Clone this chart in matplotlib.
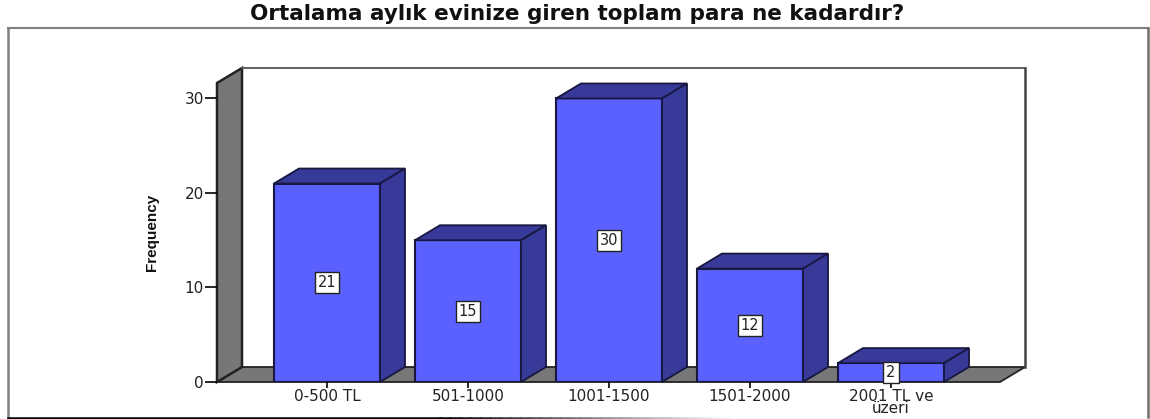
import matplotlib
matplotlib.use("Agg")
import matplotlib.pyplot as plt
from matplotlib.lines import Line2D
from matplotlib.patches import Polygon

# Data
categories = ["0-500 TL", "501-1000", "1001-1500", "1501-2000", "2001 TL ve\nüzeri"]
frequency = [21, 15, 30, 12, 2]
y_ticks = [0, 10, 20, 30]

W, H = 1150, 419
FRONT = "#5a61ff"
SIDE = "#383a9a"
WALL = "#777777"
DARK = "#17173f"
TEXT = "#222222"

fig = plt.figure(figsize=(W / 100, H / 100), dpi=100, facecolor="white")

# Axes is the front plane of the fake 3D box (pixels)
left, right, bottom, top = 217, 1000, 382, 83
ax = fig.add_axes([left / W, 1 - bottom / H, (right - left) / W, (bottom - top) / H])
ax.set_xlim(-0.78, 4.773)
ax.set_ylim(0, 31.64)
ax.patch.set_visible(False)
for s in ax.spines.values():
    s.set_visible(False)

dx = 25 / 141   # depth in category units
dy = 15 / 9.45  # depth in frequency units
bar_w = 0.752
x0, x1 = ax.get_xlim()
y0, y1 = ax.get_ylim()

# Walls and floor
ax.add_patch(Polygon([(x0, y0), (x0 + dx, y0 + dy), (x1 + dx, y0 + dy), (x1, y0)],
                     fc=WALL, ec="#222222", lw=1.3, clip_on=False, zorder=1))
ax.add_patch(Polygon([(x0, y0), (x0 + dx, y0 + dy), (x0 + dx, y1 + dy), (x0, y1)],
                     fc=WALL, ec="#222222", lw=1.8, clip_on=False, zorder=1))
ax.plot([x0 + dx, x1 + dx], [y1 + dy, y1 + dy], color="#555555", lw=1.3, clip_on=False, zorder=1)
ax.plot([x1 + dx, x1 + dx], [y0 + dy, y1 + dy], color="#444444", lw=1.8, clip_on=False, zorder=1)

# Bars
for i, v in enumerate(frequency):
    a, b = i - bar_w / 2, i + bar_w / 2
    ax.bar(i, v, width=bar_w, color=FRONT, edgecolor=DARK, linewidth=1.5, zorder=3)
    ax.add_patch(Polygon([(a, v), (a + dx, v + dy), (b + dx, v + dy), (b, v)],
                         fc=SIDE, ec=DARK, lw=1.3, clip_on=False, zorder=3))
    ax.add_patch(Polygon([(b, 0), (b + dx, dy), (b + dx, v + dy), (b, v)],
                         fc=SIDE, ec=DARK, lw=1.3, clip_on=False, zorder=3))
    ax.text(i, v / 2, str(v), ha="center", va="center", fontsize=10.5, color=TEXT,
            family="DejaVu Sans", zorder=5,
            bbox=dict(boxstyle="square,pad=0.2", fc="white", ec="#222222", lw=1))

# Ticks
ax.set_yticks(y_ticks)
ax.set_xticks(range(len(categories)))
ax.set_xticklabels(categories, fontsize=11, color=TEXT, linespacing=0.75)
ax.tick_params(axis="y", length=8.5, width=1.2, pad=1, labelsize=11, labelcolor=TEXT)
ax.tick_params(axis="x", length=4, width=1.2, pad=1)

fig.text(152 / W, 1 - 232 / H, "Frequency", rotation=90, ha="center", va="center",
         fontsize=11, fontweight="bold", family="Liberation Sans", color="#111111")
fig.text(577 / W, 1 - 14 / H, "Ortalama aylık evinize giren toplam para ne kadardır?",
         ha="center", va="center", fontsize=15.5, fontweight="bold", color="#111111")

# Outer frame
def frame(xs, ys, color, lw):
    fig.add_artist(Line2D([x / W for x in xs], [1 - y / H for y in ys], color=color, lw=lw))

frame([8, 1148], [28, 28], "#808080", 1.5)
frame([8, 8], [28, 417], "#808080", 1.8)
frame([1148, 1148], [28, 417], "#707070", 1.8)

# Bottom edge is black on the left and fades out towards the middle
frame([8, 440], [417.5, 417.5], "#000000", 1.8)
for x in range(440, 730, 10):
    g = (x - 440) / 290
    frame([x, x + 10], [417.5, 417.5], (g, g, g), 1.8)

plt.savefig("out.png", dpi=100)
plt.close()
